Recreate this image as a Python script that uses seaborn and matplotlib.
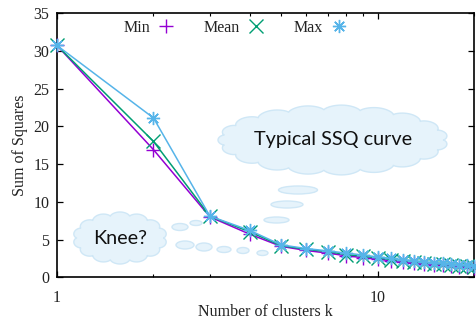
import numpy as np
import pandas as pd
import matplotlib
matplotlib.use("Agg")
import matplotlib.pyplot as plt
from matplotlib.lines import Line2D
from matplotlib.patches import Polygon, Ellipse
from matplotlib.ticker import FixedLocator, NullFormatter, FixedFormatter
import seaborn as sns

# Sum of squared distances per number of clusters (min / mean / max over runs)
k_values = list(range(1, 21))
ssq_min = [30.7, 16.9, 8.0, 5.7, 4.1, 3.55, 3.2, 2.85, 2.6, 2.4,
           2.2, 2.05, 1.9, 1.78, 1.68, 1.58, 1.5, 1.42, 1.35, 1.28]
ssq_mean = [30.7, 18.0, 8.1, 6.0, 4.2, 3.7, 3.4, 3.0, 2.8, 2.55,
            2.35, 2.2, 2.05, 1.92, 1.82, 1.72, 1.62, 1.55, 1.48, 1.4]
ssq_max = [30.7, 21.1, 8.1, 6.2, 4.3, 3.8, 3.5, 3.2, 2.95, 2.7,
           2.5, 2.35, 2.2, 2.05, 1.95, 1.85, 1.75, 1.65, 1.6, 1.5]
series_names = ["Min", "Mean", "Max"]
series_colors = ["#9400d3", "#009e73", "#56b4e9"]
series_markers = ["+", "x", (8, 2, 0)]

x_major = [1, 10]
x_major_labels = ["1", "10"]
x_minor = [2, 3, 4, 5, 6, 7, 8, 9, 20]
y_ticks = [0, 5, 10, 15, 20, 25, 30, 35]

W, H = 476, 322
FS = 11.5
sns.set_style("ticks")
serif = ["Liberation Serif", "DejaVu Serif"]
plt.rcParams["font.family"] = serif

fig = plt.figure(figsize=(W / 100, H / 100), dpi=100)
ax = fig.add_axes([57 / W, 1 - 277.3 / H, (474 - 57) / W, (277.3 - 13) / H])

df = pd.DataFrame({"k": k_values, "Min": ssq_min, "Mean": ssq_mean, "Max": ssq_max})

for name, col, mk in zip(series_names, series_colors, series_markers):
    sns.lineplot(data=df, x="k", y=name, ax=ax, color=col, marker=mk,
                 markersize=9.5, markeredgewidth=1.0, markeredgecolor=col,
                 linewidth=1.1, clip_on=False, zorder=3)

ax.set_xscale("log")
ax.set_xlim(1, 20)
ax.set_ylim(0, 35)
ax.xaxis.set_major_locator(FixedLocator(x_major))
ax.xaxis.set_major_formatter(FixedFormatter(x_major_labels))
ax.xaxis.set_minor_locator(FixedLocator(x_minor))
ax.xaxis.set_minor_formatter(NullFormatter())
ax.set_yticks(y_ticks)

for side in ["left", "right", "top", "bottom"]:
    ax.spines[side].set_visible(True)
    ax.spines[side].set_color("black")
    ax.spines[side].set_linewidth(1.2)

ax.tick_params(which="both", direction="in", top=True, right=True,
               color="black", labelsize=FS, labelcolor="#222222")
ax.tick_params(which="major", length=4.5, width=0.9)
ax.tick_params(which="minor", length=2.5, width=0.8)
ax.tick_params(axis="x", which="both", pad=9.5)
ax.tick_params(axis="y", which="both", pad=5.5)

ax.set_xlabel("Number of clusters k", fontsize=FS, color="#222222")
ax.xaxis.set_label_coords(0.5, -0.102)
ax.set_ylabel("Sum of Squares", fontsize=FS, color="#222222", labelpad=4)

handles = [Line2D([], [], ls="none", marker=mk, color=col, markeredgecolor=col,
                  markersize=9.5, markeredgewidth=1.0)
           for col, mk in zip(series_colors, series_markers)]
ax.legend(handles, series_names, loc="center", bbox_to_anchor=(0.4285, 0.943),
          ncol=3, frameon=False, markerfirst=False, handlelength=1.1,
          handletextpad=0.45, columnspacing=1.8, fontsize=FS,
          labelcolor="#222222", borderpad=0)

# thought clouds, placed in pixel space
cloud_face = "#e6f3fb"
cloud_edge = "#cfe7f6"


def to_fig(x, y):
    return np.asarray(x) / W, 1 - np.asarray(y) / H


def cloud(cx, cy, w, h, n, depth):
    t = np.linspace(0, 2 * np.pi, 1200)
    bump = np.abs(np.sin(n * t / 2)) ** 0.6
    a, b = w / 2 - depth, h / 2 - depth
    x = cx + (a + depth * bump) * np.cos(t)
    y = cy + (b + depth * bump) * np.sin(t)
    fx, fy = to_fig(x, y)
    poly = Polygon(np.column_stack([fx, fy]), closed=True, transform=fig.transFigure,
                   facecolor=cloud_face, edgecolor=cloud_edge, linewidth=1.0, zorder=1)
    ax.add_patch(poly)


def bubble(cx, cy, w, h):
    fx, fy = to_fig(cx, cy)
    e = Ellipse((fx, fy), w / W, h / H, transform=fig.transFigure,
                facecolor=cloud_face, edgecolor=cloud_edge, linewidth=1.0, zorder=1)
    ax.add_patch(e)


cloud(333, 140, 230, 70, 19, 5.0)
cloud(120, 238, 94, 52, 14, 3.8)

for bx, by, bw, bh in [(298, 190, 39, 8), (287, 204.5, 32, 7), (276.5, 220, 25, 6),
                       (180, 227, 16, 7), (196, 223, 12, 5),
                       (185, 245, 18, 8), (204, 247, 16, 8), (224, 249.5, 14, 6),
                       (243, 250.5, 12, 6), (262.5, 253, 11, 5)]:
    bubble(bx, by, bw, bh)

sans = ["Lato", "DejaVu Sans"]
tx, ty = to_fig(333.5, 139)
fig.text(tx, ty, "Typical SSQ curve", family=sans, fontsize=14.3, color="#111111",
         ha="center", va="center")
kx, ky = to_fig(120.5, 238.5)
fig.text(kx, ky, "Knee?", family=sans, fontsize=14.3, color="#111111",
         ha="center", va="center")

fig.savefig("out.png", dpi=100)
